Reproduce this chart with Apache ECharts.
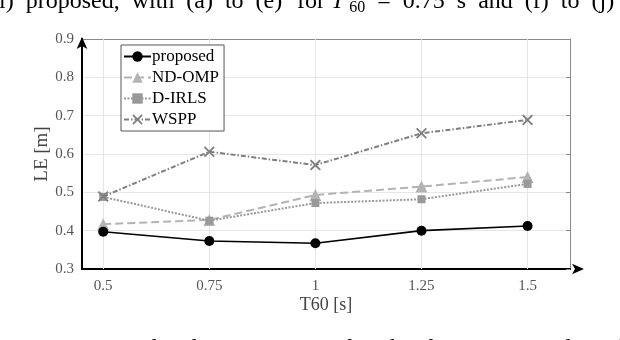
<!DOCTYPE html>
<html>
<head>
<meta charset="utf-8">
<script src="https://cdn.jsdelivr.net/npm/echarts@6/dist/echarts.min.js"></script>
<style>
    html, body { margin: 0; padding: 0; background: #fff; }
    #chart { width: 620px; height: 340px; }
</style>
</head>
<body>
<div id="chart"></div>
<script>
// T60 values on the x axis
var t60 = [0.5, 0.75, 1, 1.25, 1.5];
var yTicks = [0.3, 0.4, 0.5, 0.6, 0.7, 0.8, 0.9];

// localization error per method
var proposed = [0.397, 0.373, 0.367, 0.400, 0.412];
var ndOmp = [0.417, 0.428, 0.493, 0.515, 0.540];
var dIrls = [0.488, 0.426, 0.472, 0.482, 0.522];
var wspp = [0.489, 0.606, 0.571, 0.654, 0.689];

var serif = '"Liberation Serif", "DejaVu Serif", serif';
var xSymbol = 'path://M0,1.2 L1.2,0 L5,3.8 L8.8,0 L10,1.2 L6.2,5 L10,8.8 L8.8,10 L5,6.2 L1.2,10 L0,8.8 L3.8,5 Z';

var pairs = function (ys) {
    return t60.map(function (x, i) { return [x, ys[i]]; });
};

var capText = { fontFamily: serif, fontSize: 24, fill: '#000' };

var chart = echarts.init(document.getElementById('chart'));

var option = {
    backgroundColor: '#fff',
    animation: false,
    grid: { left: 82, right: 50, top: 39, bottom: 71 },
    graphic: [
        // justified text of the page around the figure, cut by the crop
        {
            type: 'text', left: -1, top: -10,
            style: { text: 'l)  proposed,  with  (a)  to  (e)', font: '24px ' + serif, fill: '#000' }
        },
        {
            type: 'text', left: 297, top: -10,
            style: {
                text: '{n|for }{i|T}{s|60}{n|  =  0.75  s  and  (f)  to  (j)}',
                rich: {
                    n: capText,
                    i: { fontFamily: serif, fontSize: 24, fontStyle: 'italic', fill: '#000' },
                    s: { fontFamily: serif, fontSize: 16, fill: '#000', padding: [12, 0, 0, 5] }
                }
            }
        },
        {
            type: 'text', left: 22, top: 337,
            style: {
                text: '{b|3:}{n|   Average  localization  errors  for  the  four  compared  methods}',
                rich: {
                    b: { fontFamily: serif, fontSize: 24, fontWeight: 'bold', fill: '#000' },
                    n: capText
                }
            }
        }
    ],
    legend: {
        orient: 'vertical',
        left: 121, top: 45,
        backgroundColor: '#fff',
        borderColor: '#555',
        borderWidth: 1,
        borderRadius: 0,
        padding: [3, 5, 3, 2],
        itemGap: 4,
        itemWidth: 27,
        itemHeight: 13,
        textStyle: { fontFamily: serif, fontSize: 17, color: '#000', padding: [0, 0, 0, -4] },
        data: ['proposed', 'ND-OMP', 'D-IRLS', 'WSPP']
    },
    xAxis: [
        {
            type: 'value', min: 0.45, max: 1.6,
            name: 'T60 [s]', nameLocation: 'middle', nameGap: 27, nameMoveOverlap: false,
            nameTextStyle: { fontFamily: serif, fontSize: 18, color: '#444' },
            axisLine: { show: true, lineStyle: { color: '#000', width: 2 }, symbol: ['none', 'arrow'], symbolSize: [8, 12], symbolOffset: [0, 14] },
            axisTick: { show: true, inside: true, length: 4, customValues: t60, lineStyle: { color: '#888' } },
            axisLabel: { customValues: t60, margin: 10, fontFamily: serif, fontSize: 15, color: '#555' },
            splitLine: { show: false }
        },
        {
            type: 'value', min: 0.45, max: 1.6, position: 'top',
            axisLine: { show: true, onZero: false, lineStyle: { color: '#888', width: 1 } },
            axisTick: { show: true, inside: true, length: 4, customValues: t60, lineStyle: { color: '#888' } },
            axisLabel: { show: false },
            splitLine: { show: false }
        }
    ],
    yAxis: [
        {
            type: 'value', min: 0.3, max: 0.9, interval: 0.1,
            name: 'LE [m]', nameLocation: 'middle', nameGap: 30, nameMoveOverlap: false,
            nameTextStyle: { fontFamily: serif, fontSize: 19, color: '#444' },
            axisLine: { show: true, lineStyle: { color: '#000', width: 2 }, symbol: ['none', 'arrow'], symbolSize: [8, 12], symbolOffset: [0, 2] },
            axisTick: { show: false },
            axisLabel: { margin: 8, fontFamily: serif, fontSize: 15, color: '#555', formatter: function (v) { return v.toFixed(1); } },
            splitLine: { show: true, lineStyle: { color: '#e6e6e6', width: 1 } }
        },
        {
            type: 'value', min: 0.3, max: 0.9, interval: 0.1, position: 'right',
            axisLine: { show: true, onZero: false, lineStyle: { color: '#888', width: 1 } },
            axisTick: { show: true, inside: true, length: 4, lineStyle: { color: '#888' } },
            axisLabel: { show: false },
            splitLine: { show: false }
        }
    ],
    series: [
        {
            name: 'proposed', type: 'line', data: pairs(proposed), z: 10,
            symbol: 'circle', symbolSize: 10,
            lineStyle: { color: '#000', width: 1.6 },
            itemStyle: { color: '#000' },
            markLine: {
                silent: true, symbol: 'none', label: { show: false }, z: 1,
                lineStyle: { color: '#e6e6e6', width: 1, type: 'solid' },
                data: t60.map(function (v) { return { xAxis: v }; })
            }
        },
        {
            name: 'ND-OMP', type: 'line', data: pairs(ndOmp), z: 6,
            symbol: 'triangle', symbolSize: 12,
            lineStyle: { color: '#b3b3b3', width: 2, type: [8, 4] },
            itemStyle: { color: '#b3b3b3' }
        },
        {
            name: 'D-IRLS', type: 'line', data: pairs(dIrls), z: 7,
            symbol: 'rect', symbolSize: 8,
            lineStyle: { color: '#999', width: 2, type: [2, 1.5] },
            itemStyle: { color: '#999' }
        },
        {
            name: 'WSPP', type: 'line', data: pairs(wspp), z: 8,
            symbol: xSymbol, symbolSize: 11,
            lineStyle: { color: '#7f7f7f', width: 2, type: [5, 2, 1.5, 2] },
            itemStyle: { color: '#7f7f7f' }
        }
    ]
};

chart.setOption(option);
</script>
</body>
</html>
